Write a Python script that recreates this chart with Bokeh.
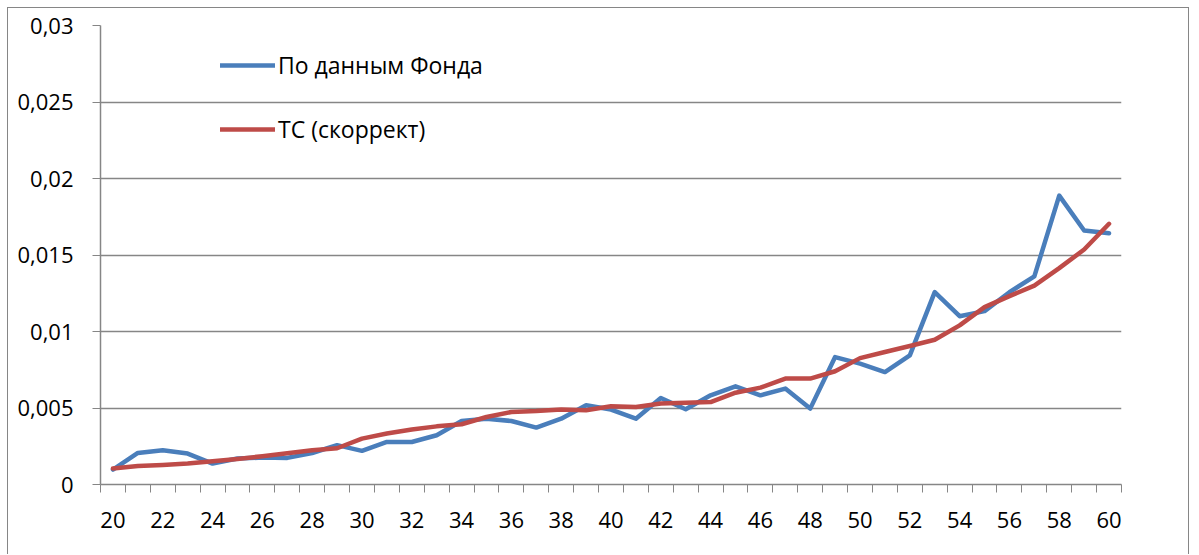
from bokeh.plotting import figure
from bokeh.models import Range1d, FixedTicker, Legend, LegendItem
from bokeh.embed import file_html
from bokeh.resources import INLINE

ages = [20, 21, 22, 23, 24, 25, 26, 27, 28, 29,
        30, 31, 32, 33, 34, 35, 36, 37, 38, 39,
        40, 41, 42, 43, 44, 45, 46, 47, 48, 49,
        50, 51, 52, 53, 54, 55, 56, 57, 58, 59, 60]

fund = [0.00098, 0.00206, 0.00224, 0.00202, 0.00137, 0.00170, 0.00176, 0.00174, 0.00206, 0.00257,
        0.00220, 0.00278, 0.00278, 0.00322, 0.00415, 0.00430, 0.00415, 0.00372, 0.00430, 0.00518,
        0.00490, 0.00430, 0.00565, 0.00492, 0.00583, 0.00642, 0.00583, 0.00627, 0.00496, 0.00833,
        0.00790, 0.00735, 0.00844, 0.01257, 0.01100, 0.01133, 0.01257, 0.01360, 0.01888, 0.01660, 0.01642]

ts = [0.00104, 0.00121, 0.00128, 0.00137, 0.00152, 0.00167, 0.00185, 0.00204, 0.00224, 0.00237,
      0.00300, 0.00333, 0.00359, 0.00380, 0.00394, 0.00441, 0.00474, 0.00480, 0.00490, 0.00485,
      0.00511, 0.00507, 0.00529, 0.00535, 0.00539, 0.00600, 0.00633, 0.00692, 0.00692, 0.00740,
      0.00826, 0.00866, 0.00905, 0.00946, 0.01040, 0.01159, 0.01231, 0.01300, 0.01414, 0.01536, 0.01704]

series_names = ["По данным Фонда", "ТС (скоррект)"]
series_colors = ["#4A7EBB", "#BE4B48"]

y_ticks = [0, 0.005, 0.01, 0.015, 0.02, 0.025, 0.03]
y_tick_labels = ["0", "0,005", "0,01", "0,015", "0,02", "0,025", "0,03"]
x_ticks = [20, 22, 24, 26, 28, 30, 32, 34, 36, 38, 40, 42, 44, 46, 48, 50, 52, 54, 56, 58, 60]
x_tick_labels = [str(a) for a in x_ticks]
x_boundaries = [a - 0.5 for a in ages] + [ages[-1] + 0.5]

FONT = "Open Sans"
GRAY = "#868686"

p = figure(width=1182, height=547, output_backend="svg", toolbar_location=None,
           x_range=Range1d(ages[0] - 0.5, ages[-1] + 0.5),
           y_range=Range1d(y_ticks[0], y_ticks[-1]),
           min_border_left=92, min_border_right=69, min_border_top=17, min_border_bottom=71)
p.styles = {"margin-left": "7px", "margin-top": "7px",
            "border-style": "solid", "border-color": GRAY, "border-width": "1px 1px 0 1px"}
p.outline_line_color = None
p.background_fill_color = "white"
p.border_fill_color = "white"

r1 = p.line(ages, fund, line_color=series_colors[0], line_width=4.5,
            line_join="round", line_cap="round")
r2 = p.line(ages, ts, line_color=series_colors[1], line_width=4.5,
            line_join="round", line_cap="round")

# x axis
xa = p.xaxis[0]
xa.ticker = FixedTicker(ticks=x_ticks, minor_ticks=x_boundaries)
xa.major_label_overrides = {t: l for t, l in zip(x_ticks, x_tick_labels)}
xa.major_tick_out = 0
xa.major_tick_in = 0
xa.minor_tick_out = 8
xa.minor_tick_in = 0
xa.minor_tick_line_color = GRAY
xa.axis_line_color = GRAY
xa.axis_line_width = 1.5
xa.major_label_text_font = FONT
xa.major_label_text_font_size = "22px"
xa.major_label_text_color = "black"
xa.major_label_standoff = 19

# y axis
ya = p.yaxis[0]
ya.ticker = FixedTicker(ticks=y_ticks, minor_ticks=[])
ya.major_label_overrides = {t: l for t, l in zip(y_ticks, y_tick_labels)}
ya.major_tick_out = 8
ya.major_tick_in = 0
ya.major_tick_line_color = GRAY
ya.minor_tick_out = 0
ya.minor_tick_in = 0
ya.axis_line_color = GRAY
ya.axis_line_width = 1.5
ya.major_label_text_font = FONT
ya.major_label_text_font_size = "22px"
ya.major_label_text_color = "black"
ya.major_label_standoff = 19

p.xgrid.visible = False
p.ygrid.grid_line_color = GRAY
p.ygrid.grid_line_width = 1.5

legend = Legend(items=[LegendItem(label=series_names[0], renderers=[r1]),
                       LegendItem(label=series_names[1], renderers=[r2])],
                location=(120, 339), orientation="vertical",
                glyph_width=55, glyph_height=26, label_height=26, label_standoff=3,
                spacing=32, padding=0, margin=0,
                background_fill_alpha=0, border_line_color=None,
                label_text_font=FONT, label_text_font_size="23px", label_text_color="black")
p.add_layout(legend)

open("out.html", "w").write(file_html(p, INLINE))
